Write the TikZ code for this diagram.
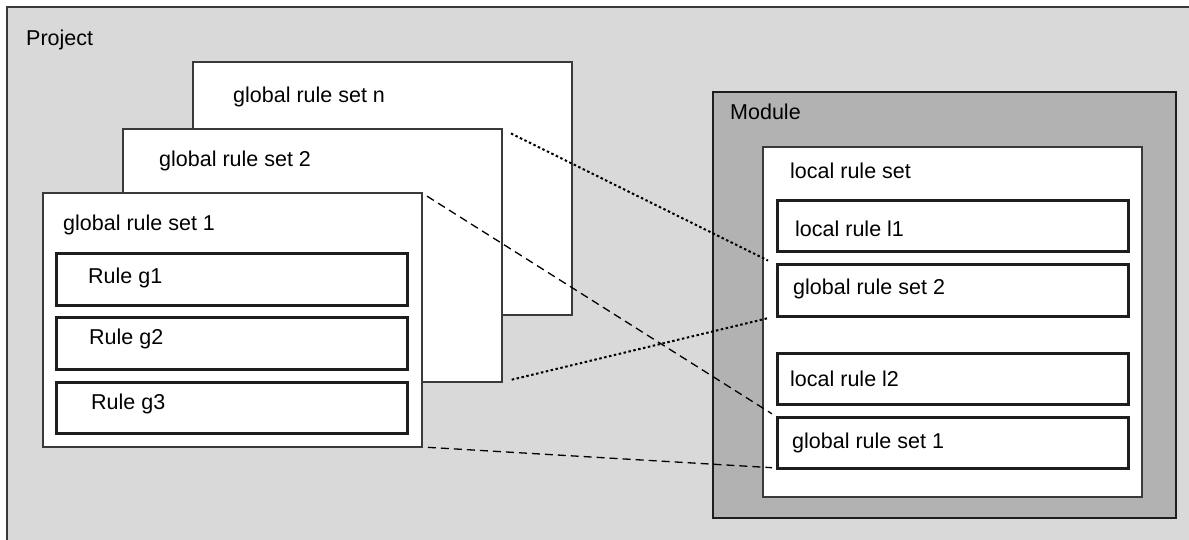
\documentclass[tikz,border=0pt]{standalone}
\usepackage{fontspec}
\setmainfont{Liberation Sans}
\usetikzlibrary{positioning}

\definecolor{projgray}{HTML}{D9D9D9}
\definecolor{modgray}{HTML}{B2B2B2}
\definecolor{boxline}{HTML}{3A3A3A}
\definecolor{ruleline}{HTML}{1E1E1E}

\newcommand{\lblfont}{\fontsize{21.5}{24}\selectfont}

\tikzset{
  setbox/.style={draw=boxline, line width=1.3pt, fill=white, anchor=north west, inner sep=0pt, outer sep=0pt},
  rulebox/.style={draw=ruleline, line width=3pt, fill=white, anchor=north west, inner sep=0pt, outer sep=0pt,
    minimum width=351pt, minimum height=51pt},
  lbl/.style={anchor=west, inner sep=0pt, font=\lblfont},
  dotlink/.style={line width=2pt, dash pattern=on 2.5pt off 2.5pt},
  dashlink/.style={line width=1.3pt, dash pattern=on 8pt off 5pt},
}

\begin{document}
\begin{tikzpicture}[x=1pt, y=-1pt]
    \useasboundingbox (0,0) rectangle (1189,540);

    % Project area
    \node[fill=projgray, anchor=north west, inner sep=0pt, outer sep=0pt,
          minimum width=1190pt, minimum height=540pt] (project) at (7,7) {};
    \draw[boxline, line width=2pt] (project.south west) |- (project.north east);
    \node[lbl] (projlbl) at (26,40) {Project};

    % Global rule sets, stacked
    \node[setbox, minimum width=379pt, minimum height=253pt] (grsn) at (193,62) {};
    \node[lbl] (grsnlbl) at (233,97) {global rule set n};
    \node[setbox, minimum width=379pt, minimum height=253pt] (grs2) at (123,129) {};
    \node[lbl] (grs2lbl) at (159,161) {global rule set 2};
    \node[setbox, minimum width=379pt, minimum height=254pt] (grs1) at (43,193) {};
    \node[lbl] (grs1lbl) at (63,225) {global rule set 1};

    % Rules of set 1
    \node[rulebox] (g1) at (56,254) {};
    \node[lbl] (g1lbl) at (88,278) {Rule g1};
    \node[rulebox, minimum height=52pt] (g2) at (56,317) {};
    \node[lbl] (g2lbl) at (89,339) {Rule g2};
    \node[rulebox] (g3) at (56,382) {};
    \node[lbl] (g3lbl) at (91,404) {Rule g3};

    % Module with its local rule set
    \node[draw=ruleline, line width=2pt, fill=modgray, anchor=north west, inner sep=0pt, outer sep=0pt,
          minimum width=463pt, minimum height=426pt] (module) at (713,92) {};
    \node[lbl] (modlbl) at (730,112) {Module};
    \node[setbox, minimum width=379pt, minimum height=350pt] (lrs) at (763,147) {};
    \node[lbl] (lrslbl) at (790,171) {local rule set};

    \node[rulebox] (l1) at (777,201) {};
    \node[lbl] (l1lbl) at (795,229) {local rule l1};
    \node[rulebox] (rgrs2) at (777,265) {};
    \node[lbl] (rgrs2lbl) at (793,289) {global rule set 2};
    \node[rulebox] (l2) at (777,353) {};
    \node[lbl] (l2lbl) at (790,379) {local rule l2};
    \node[rulebox] (rgrs1) at (777,417) {};
    \node[lbl] (rgrs1lbl) at (792,443) {global rule set 1};

    % References
    \draw[dotlink, shorten <=10pt, shorten >=10pt] (grs2.north east) -- (rgrs2.north west);
    \draw[dotlink, shorten <=10pt, shorten >=10pt] (grs2.south east) -- (rgrs2.south west);
    \draw[dashlink, shorten <=6pt, shorten >=6pt] (grs1.north east) -- (rgrs1.north west);
    \draw[dashlink, shorten <=6pt, shorten >=5pt] (grs1.south east) -- (rgrs1.south west);
\end{tikzpicture}
\end{document}
